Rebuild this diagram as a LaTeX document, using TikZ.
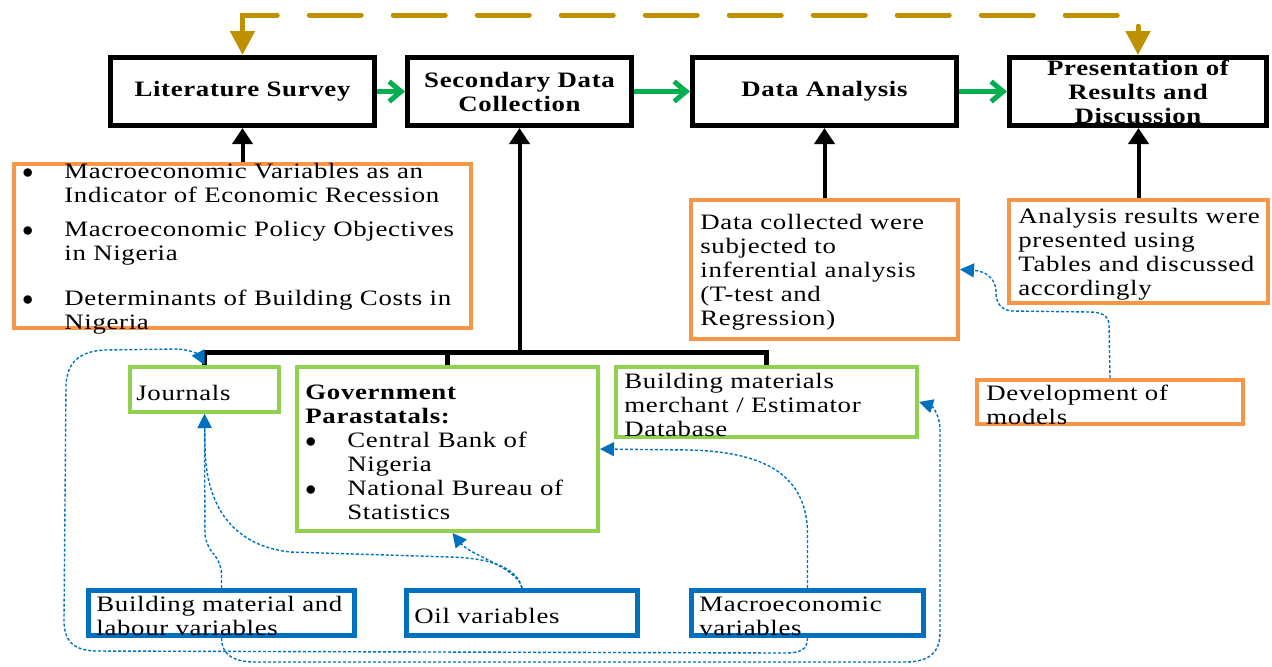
\documentclass[tikz,border=0pt]{standalone}
\usepackage{fontspec}
\setmainfont{Liberation Serif}[FakeStretch=1.22,LetterSpace=3]
\usetikzlibrary{arrows.meta,positioning}
\definecolor{boxorange}{HTML}{F79646}
\definecolor{boxgreen}{HTML}{92D050}
\definecolor{boxblue}{HTML}{0070C0}
\definecolor{flowgreen}{HTML}{00B050}
\definecolor{loopgold}{HTML}{BF9000}
\newcommand{\bitem}{\makebox[21pt][l]{$\bullet$}}
\newcommand{\bgap}{\hspace*{21pt}}
\tikzset{
	every node/.style={font=\fontsize{11}{12}\selectfont},
	topbox/.style={draw, line width=2.5pt, inner sep=0pt, minimum height=34pt, align=center, font=\fontsize{11}{12}\selectfont\bfseries},
	orbox/.style={draw=boxorange, line width=2pt},
	grbox/.style={draw=boxgreen, line width=2pt},
	blbox/.style={draw=boxblue, line width=2.5pt},
	txt/.style={inner sep=0pt, align=left, anchor=west, yshift=-1.5pt},
	flow/.style={draw=flowgreen, line width=2.5pt, -{Straight Barb[length=6pt,width=10pt]}},
	feed/.style={line width=2pt, -{Triangle[length=8pt,width=10pt]}},
	link/.style={draw=boxblue, line width=0.7pt, dash pattern=on 1.5pt off 1pt, -{Triangle[length=7pt,width=7pt]}},
}

\begin{document}
\begin{tikzpicture}[x=0.5pt,y=-0.5pt]
	\useasboundingbox (0,0) rectangle (1272,666);

	\node[topbox, minimum width=132pt] (lit) at (242.5,91.5) {Literature Survey};
	\node[topbox, minimum width=112pt] (sec) at (519.5,91.5) {Secondary Data\\Collection};
	\node[topbox, minimum width=132pt] (da) at (824.5,91.5) {Data Analysis};
	\node[topbox, minimum width=128.5pt] (pres) at (1138,91.5) {Presentation of\\Results and\\Discussion};

	\node[orbox, minimum width=228.5pt, minimum height=82pt] (bul) at (242.5,246) {};
	\node[txt, right=5pt of bul.west] (bultxt) {\bitem Macroeconomic Variables as an\\\bgap Indicator of Economic Recession\\[5pt]\bitem Macroeconomic Policy Objectives\\\bgap in Nigeria\\[10.5pt]\bitem Determinants of Building Costs in\\\bgap Nigeria};
	\node[orbox, minimum width=133.5pt, minimum height=69.5pt] (inf) at (824.5,269.5) {};
	\node[txt, right=5.5pt of inf.west] (inftxt) {Data collected were\\subjected to\\inferential analysis\\(T-test and\\Regression)};
	\node[orbox, minimum width=129.5pt, minimum height=51.5pt] (res) at (1138.5,251.5) {};
	\node[txt, right=5.5pt of res.west] (restxt) {Analysis results were\\presented using\\Tables and discussed\\accordingly};
	\node[orbox, minimum width=133pt, minimum height=22pt] (dev) at (1110,402) {};
	\node[txt, right=5.5pt of dev.west] (devtxt) {Development of\\models};

	\node[grbox, minimum width=74.5pt, minimum height=22.5pt] (jour) at (204.5,389.5) {};
	\node[txt, right=4pt of jour.west] (jourtxt) {Journals};
	\node[grbox, minimum width=150.5pt, minimum height=82pt] (gov) at (447.5,449) {};
	\node[txt, right=5pt of gov.west] (govtxt) {\textbf{Government}\\\textbf{Parastatals:}\\\bitem Central Bank of\\\bgap Nigeria\\\bitem National Bureau of\\\bgap Statistics};
	\node[grbox, minimum width=150.5pt, minimum height=35pt] (bmm) at (766.5,402) {};
	\node[txt, right=5pt of bmm.west] (bmmtxt) {Building materials\\merchant / Estimator\\Database};

	\node[blbox, minimum width=133pt, minimum height=22.5pt] (bml) at (221.5,613) {};
	\node[txt, right=5pt of bml.west] (bmltxt) {Building material and\\labour variables};
	\node[blbox, minimum width=115.5pt, minimum height=22.5pt] (oil) at (522,613) {};
	\node[txt, right=5pt of oil.west] (oiltxt) {Oil variables};
	\node[blbox, minimum width=116pt, minimum height=22.5pt] (mac) at (807.5,613) {};
	\node[txt, right=5pt of mac.west] (mactxt) {Macroeconomic\\variables};

	\coordinate (top) at (0,15);
	\coordinate (bar) at (519.5,352);

	\draw[loopgold, line width=2.5pt, line cap=round, dash pattern=on 26pt off 16pt, {Triangle[length=12pt,width=12pt]}-{Triangle[length=12pt,width=12pt]}] (lit.north) -- (lit.north |- top) -- (pres.north |- top) -- (pres.north);
	\draw[flow] (lit) -- (sec);
	\draw[flow] (sec) -- (da);
	\draw[flow] (da) -- (pres);

	\draw[feed] (bul.north) -- (lit.south);
	\draw[feed] (bar) -- (sec.south);
	\draw[feed] (inf.north) -- (da.south);
	\draw[feed] (res.north) -- (res.north |- pres.south);
	\draw[line width=2.5pt] (jour.north) -- (jour.north |- bar) -- (bmm.north |- bar) -- (bmm.north);
	\draw[line width=2.5pt] (gov.north) -- (gov.north |- bar);

	\draw[link, rounded corners=6pt] (bml.north) -- (221.5,562) -- (205,545) -- (jour.south);
	\draw[link] (oil.north) .. controls (518,570) and (495,558) .. (450,557) -- (290,552) .. controls (228,545) and (205,500) .. (205,445) -- (jour.south);
	\draw[link] (oil.north) .. controls (518,568) and (470,555) .. ([xshift=2.5pt]gov.south);
	\draw[link] (mac.north) -- (807.5,530) .. controls (805,475) and (765,452) .. (690,450) -- (gov.east);
	\draw[link] (mac.south) .. controls (807.5,650) and (800,653) .. (785,653) -- (95,651) .. controls (72,650) and (64,640) .. (64,620) -- (66,385) .. controls (67,362) and (80,351) .. (105,350) -- (175,349) .. controls (192,349) and (200,356) .. (jour.north);
	\draw[link] (bml.south) .. controls (221.5,652) and (230,662) .. (255,662) -- (905,662) .. controls (930,662) and (940,652) .. (940,632) -- (940,430) .. controls (940,415) and (932,406) .. (bmm.east);
	\draw[link] (dev.north) -- (1109,325) .. controls (1109,315) and (1100,312) .. (1090,312) -- (1012,311) .. controls (1000,310) and (996,302) .. (996,292) .. controls (996,278) and (985,271) .. (inf.east);
\end{tikzpicture}
\end{document}
